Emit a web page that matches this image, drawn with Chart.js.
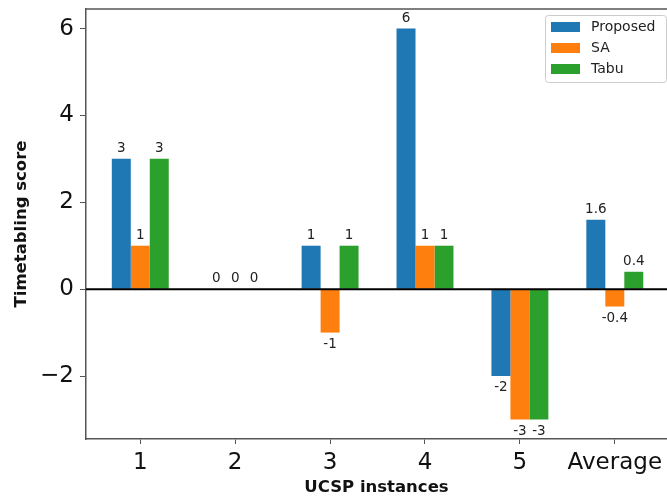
<!DOCTYPE html>
<html>
<head>
<meta charset="utf-8">
<script src="https://cdn.jsdelivr.net/npm/chart.js@4"></script>
<style>
  html, body { margin: 0; padding: 0; background: #fff; overflow: hidden; }
  #wrap { width: 667px; height: 498px; position: relative; }
</style>
</head>
<body>
<div id="wrap"><canvas id="scoreChart"></canvas></div>
<script>
const categories = ['1', '2', '3', '4', '5', 'Average'];
const proposedScores = [3, 0, 1, 6, -2, 1.6];
const saScores = [1, 0, -1, 1, -3, -0.4];
const tabuScores = [3, 0, 1, 1, -3, 0.4];
const yTicks = [-2, 0, 2, 4, 6];

const FONT = '"DejaVu Sans", sans-serif';
const SPINE = '#555';

const toPoints = arr => arr.map((v, i) => ({ x: i, y: v }));

// value labels above / below each bar
const barLabels = {
    id: 'barLabels',
    afterDatasetsDraw(chart) {
        const ctx = chart.ctx;
        ctx.save();
        ctx.font = '13.5px ' + FONT;
        ctx.fillStyle = '#222';
        ctx.textAlign = 'center';
        chart.data.datasets.forEach((ds, di) => {
            chart.getDatasetMeta(di).data.forEach((bar, i) => {
                const v = ds.data[i].y;
                if (v >= 0) {
                    ctx.textBaseline = 'alphabetic';
                    ctx.fillText(String(v), bar.x, bar.y - 7);
                } else {
                    ctx.textBaseline = 'top';
                    ctx.fillText(String(v), bar.x, bar.y + 5);
                }
            });
        });
        ctx.restore();
    }
};

// zero line, top spine and the boxed legend
const decorations = {
    id: 'decorations',
    afterDatasetsDraw(chart) {
        const { ctx, chartArea: a, scales } = chart;
        ctx.save();
        const y0 = scales.y.getPixelForValue(0);
        ctx.strokeStyle = '#000';
        ctx.lineWidth = 2;
        ctx.beginPath(); ctx.moveTo(a.left, y0); ctx.lineTo(a.right, y0); ctx.stroke();

        ctx.strokeStyle = SPINE;
        ctx.lineWidth = 1.5;
        ctx.beginPath(); ctx.moveTo(a.left - 0.75, a.top); ctx.lineTo(a.right, a.top); ctx.stroke();

        // legend
        const lx = 545, ly = 15, lw = 121, lh = 67;
        ctx.fillStyle = 'rgba(255,255,255,0.85)';
        ctx.strokeStyle = '#ccc';
        ctx.lineWidth = 1;
        ctx.beginPath();
        ctx.roundRect(lx + 0.5, ly + 0.5, lw, lh, 3);
        ctx.fill(); ctx.stroke();
        ctx.font = '14px ' + FONT;
        ctx.textAlign = 'left';
        ctx.textBaseline = 'middle';
        chart.data.datasets.forEach((ds, i) => {
            const cy = 27 + i * 21;
            ctx.fillStyle = ds.backgroundColor;
            ctx.fillRect(551, cy - 5, 29, 10);
            ctx.fillStyle = '#222';
            ctx.fillText(ds.label, 591, cy);
        });
        ctx.restore();
    }
};

new Chart(document.getElementById('scoreChart'), {
    type: 'bar',
    data: {
        datasets: [
            { label: 'Proposed', data: toPoints(proposedScores), backgroundColor: '#1f77b4' },
            { label: 'SA', data: toPoints(saScores), backgroundColor: '#ff7f0e' },
            { label: 'Tabu', data: toPoints(tabuScores), backgroundColor: '#2ca02c' }
        ]
    },
    options: {
        responsive: true,
        maintainAspectRatio: false,
        animation: false,
        categoryPercentage: 0.6,
        barPercentage: 1.0,
        layout: { padding: { top: 9, left: 0, right: 0, bottom: 0 } },
        plugins: { legend: { display: false }, tooltip: { enabled: false } },
        scales: {
            x: {
                type: 'linear',
                offset: false,
                min: -0.572,
                max: 5.55,
                afterBuildTicks: s => { s.ticks = categories.map((c, i) => ({ value: i })); },
                afterFit: s => { s.height = 59; s.paddingLeft = 0; s.paddingRight = 0; },
                ticks: {
                    autoSkip: false, maxRotation: 0, minRotation: 0,
                    padding: 5,
                    color: '#111',
                    font: { family: FONT, size: 23 },
                    callback: v => categories[v]
                },
                grid: { display: true, drawOnChartArea: false, drawTicks: true, tickLength: 5, color: SPINE, offset: false },
                border: { display: true, color: SPINE, width: 1.5 },
                title: {
                    display: true, text: 'UCSP instances', color: '#111',
                    font: { family: FONT, size: 16.5, weight: 'bold', lineHeight: 1.2 },
                    padding: { top: 0, bottom: 0 }
                }
            },
            y: {
                min: -3.45,
                max: 6.45,
                afterBuildTicks: s => { s.ticks = yTicks.map(v => ({ value: v })); },
                afterFit: s => { s.width = 86; s.paddingTop = 0; s.paddingBottom = 0; },
                ticks: {
                    padding: 6,
                    color: '#111',
                    font: { family: FONT, size: 23 },
                    callback: v => v < 0 ? '\u2212' + Math.abs(v) : String(v)
                },
                grid: { display: true, drawOnChartArea: false, drawTicks: true, tickLength: 6, color: SPINE },
                border: { display: true, color: SPINE, width: 1.5 },
                title: {
                    display: true, text: 'Timetabling score', color: '#111',
                    font: { family: FONT, size: 16.5, weight: 'bold', lineHeight: 1.2 },
                    padding: { top: 12, bottom: 0 }
                }
            }
        }
    },
    plugins: [barLabels, decorations]
});
</script>
</body>
</html>
